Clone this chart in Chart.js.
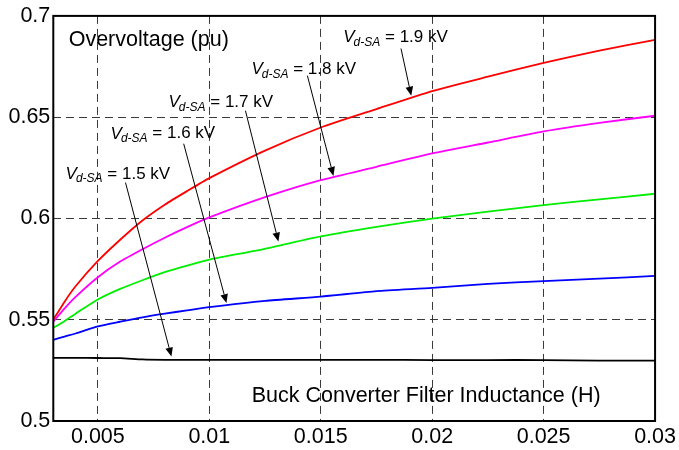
<!DOCTYPE html>
<html>
<head>
<meta charset="utf-8">
<script src="https://cdn.jsdelivr.net/npm/chart.js@4.4.0/dist/chart.umd.min.js"></script>
<style>
  html, body { margin: 0; padding: 0; background: #fff; }
  #wrap { width: 679px; height: 450px; }
</style>
</head>
<body>
<div id="wrap"><canvas id="myChart"></canvas></div>
<script>
// inductance values (H) where the curves were read
const inductance = [0.003, 0.0035, 0.004, 0.005, 0.006, 0.007, 0.008, 0.009, 0.01, 0.0125, 0.015, 0.0175, 0.02, 0.0225, 0.025, 0.0275, 0.03];

// overvoltage (pu) for each surge arrester voltage
const ov15 = [0.5312, 0.5312, 0.5312, 0.5311, 0.5310, 0.5304, 0.5302, 0.5302, 0.5302, 0.5302, 0.5302, 0.5302, 0.5301, 0.5301, 0.5301, 0.5298, 0.5298];
const ov16 = [0.5401, 0.5417, 0.5432, 0.5467, 0.5490, 0.5512, 0.5530, 0.5546, 0.5562, 0.5593, 0.5614, 0.5641, 0.5657, 0.5677, 0.5691, 0.5703, 0.5716];
const ov17 = [0.5460, 0.5493, 0.5530, 0.5600, 0.5652, 0.5695, 0.5735, 0.5767, 0.5797, 0.5850, 0.5911, 0.5958, 0.5999, 0.6034, 0.6066, 0.6094, 0.6122];
const ov18 = [0.5490, 0.5555, 0.5613, 0.5710, 0.5787, 0.5848, 0.5905, 0.5957, 0.6005, 0.6105, 0.6189, 0.6255, 0.6321, 0.6375, 0.6430, 0.6472, 0.6507];
const ov19 = [0.5500, 0.5588, 0.5665, 0.5790, 0.5895, 0.5990, 0.6068, 0.6135, 0.6199, 0.6335, 0.6449, 0.6540, 0.6629, 0.6700, 0.6768, 0.6828, 0.6882];

const xTicks = [0.005, 0.01, 0.015, 0.02, 0.025, 0.03];
const yTicks = [0.5, 0.55, 0.6, 0.65, 0.7];

// annotation labels, in axis units
const labelVolts = ['1.5', '1.6', '1.7', '1.8', '1.9'];
const labelX = [0.00355, 0.00557, 0.00817, 0.01189, 0.01601];
const labelY = [0.6220, 0.6418, 0.6572, 0.6735, 0.6894];
const arrowFromX = [0.00624, 0.00885, 0.01162, 0.0144, 0.0186];
const arrowFromY = [0.6177, 0.6369, 0.6532, 0.6705, 0.6839];
const arrowToX = [0.0083, 0.01077, 0.0131, 0.01557, 0.01906];
const arrowToY = [0.5318, 0.5582, 0.5886, 0.6210, 0.6606];

const FONT = '"Liberation Sans", Arial, Helvetica, sans-serif';

function pts(ys) {
    return inductance.map((x, i) => ({ x: x, y: ys[i] }));
}

function line(data, color) {
    return { data: pts(data), borderColor: color, backgroundColor: color,
             borderWidth: 1.8, pointRadius: 0, tension: 0.2, fill: false };
}

//draws frame, axis captions, V labels and arrows
const annotations = {
    id: 'annotations',
    afterDatasetsDraw(chart) {
        const ctx = chart.ctx;
        const xs = chart.scales.x, ys = chart.scales.y;
        const a = chart.chartArea;
        ctx.save();

        ctx.strokeStyle = '#000';
        ctx.lineWidth = 2;
        ctx.strokeRect(a.left, a.top, a.right - a.left, a.bottom - a.top);

        ctx.fillStyle = '#000';
        ctx.textBaseline = 'middle';
        ctx.textAlign = 'left';
        ctx.font = '21.5px ' + FONT;
        ctx.fillText('Overvoltage (pu)', xs.getPixelForValue(0.00369), ys.getPixelForValue(0.6879));
        ctx.fillText('Buck Converter Filter Inductance (H)', xs.getPixelForValue(0.0119), ys.getPixelForValue(0.5122));

        for (let i = 0; i < labelVolts.length; i++) {
            let px = xs.getPixelForValue(labelX[i]);
            const py = ys.getPixelForValue(labelY[i]);
            ctx.font = 'italic 17px ' + FONT;
            ctx.fillText('V', px, py);
            px += ctx.measureText('V').width - 1;
            ctx.font = 'italic 12px ' + FONT;
            ctx.fillText('d-SA', px, py + 5);
            px += ctx.measureText('d-SA').width;
            ctx.font = '17px ' + FONT;
            ctx.fillText(' = ' + labelVolts[i] + ' kV', px, py);

            const x0 = xs.getPixelForValue(arrowFromX[i]), y0 = ys.getPixelForValue(arrowFromY[i]);
            const x1 = xs.getPixelForValue(arrowToX[i]), y1 = ys.getPixelForValue(arrowToY[i]);
            const ang = Math.atan2(y1 - y0, x1 - x0);
            const hl = 9, hw = 3.8;
            const bx = x1 - hl * Math.cos(ang), by = y1 - hl * Math.sin(ang);
            ctx.lineWidth = 1;
            ctx.beginPath();
            ctx.moveTo(x0, y0);
            ctx.lineTo(bx, by);
            ctx.stroke();
            ctx.beginPath();
            ctx.moveTo(x1, y1);
            ctx.lineTo(bx + hw * Math.sin(ang), by - hw * Math.cos(ang));
            ctx.lineTo(bx - hw * Math.sin(ang), by + hw * Math.cos(ang));
            ctx.closePath();
            ctx.fill();
        }
        ctx.restore();
    }
};

const ctx = document.getElementById('myChart').getContext('2d');
const myChart = new Chart(ctx, {
    type: 'line',
    data: {
        datasets: [
            line(ov15, '#000000'),
            line(ov16, '#0000ff'),
            line(ov17, '#00ee00'),
            line(ov18, '#ff00ff'),
            line(ov19, '#ff0000')
        ]
    },
    options: {
        responsive: true,
        maintainAspectRatio: false,
        animation: false,
        layout: { padding: { top: 15, right: 22, left: 0, bottom: 0 } },
        plugins: { legend: { display: false }, tooltip: { enabled: false } },
        scales: {
            x: {
                type: 'linear',
                min: 0.003,
                max: 0.03,
                afterBuildTicks: s => { s.ticks = xTicks.map(v => ({ value: v })); },
                afterFit: s => { s.height = 29; },
                grid: { color: '#3a3a3a', lineWidth: 1, drawTicks: false },
                border: { display: false, dash: [8, 5] },
                ticks: {
                    padding: 3, color: '#000', maxRotation: 0,
                    font: { family: FONT, size: 21.5 },
                    callback: v => String(Number(v.toFixed(4)))
                }
            },
            y: {
                min: 0.5,
                max: 0.7,
                afterBuildTicks: s => { s.ticks = yTicks.map(v => ({ value: v })); },
                afterFit: s => { s.width = 53.3; },
                grid: { color: '#3a3a3a', lineWidth: 1, drawTicks: false },
                border: { display: false, dash: [8, 5] },
                ticks: {
                    padding: 3, color: '#000',
                    font: { family: FONT, size: 21.5 },
                    callback: v => String(Number(v.toFixed(4)))
                }
            }
        }
    },
    plugins: [annotations]
});
</script>
</body>
</html>
